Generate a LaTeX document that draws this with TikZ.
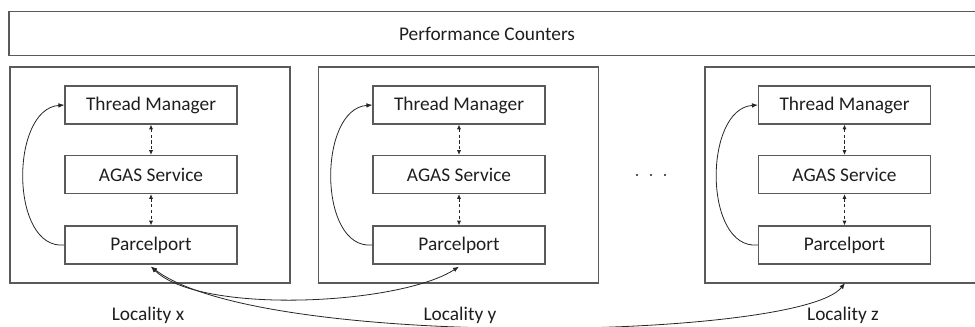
\documentclass[tikz,border=0pt]{standalone}
\usepackage{fontspec}
\setmainfont{Carlito}
\usetikzlibrary{arrows.meta}
\definecolor{boxline}{HTML}{5A5A5A}
\definecolor{txt}{HTML}{1E1E1E}
\tikzset{
  frame/.style={draw=boxline, line width=1pt, inner sep=0pt, minimum width=210pt, minimum height=162pt},
  unit/.style={draw=boxline, line width=0.9pt, inner sep=0pt, minimum width=129pt, minimum height=28.5pt,
    font=\fontsize{14.5}{16}\selectfont, text=txt},
  caption/.style={font=\fontsize{14.5}{16}\selectfont, text=txt, anchor=base, inner sep=0pt},
  tip/.style={-{Latex[length=4.5pt,width=3.5pt]}},
  link/.style={{Latex[length=4.5pt,width=3.5pt]}-{Latex[length=4.5pt,width=3.5pt]}, line width=0.6pt, black!85},
  query/.style={{Latex[length=3.5pt,width=3pt]}-{Latex[length=3.5pt,width=3pt]}, line width=0.6pt, black!85,
    dash pattern=on 2.5pt off 1.8pt},
}
\begin{document}
\begin{tikzpicture}[x=0.75pt, y=-0.75pt]
  \useasboundingbox (0,0) rectangle (975,327);
  \clip (0,0) rectangle (975,327);

  % shared counter layer across all localities
  \node[draw=boxline, line width=1pt, inner sep=0pt, minimum width=732pt, minimum height=33pt] (pc) at (497,33.5) {};
  \node[font=\fontsize{14.5}{16}\selectfont, text=txt] (pctext) at (487,33.5) {Performance Counters};

  % locality frames
  \node[frame] (lx) at (150,175) {};
  \node[frame] (ly) at (458.5,175) {};
  \node[frame] (lz) at (845,175) {};

  % components of each locality
  \foreach \c/\cx in {x/151, y/459, z/844.5} {
    \node[unit] (tm\c) at (\cx,105) {Thread Manager};
    \node[unit] (ag\c) at (\cx,174.5) {AGAS Service};
    \node[unit] (pp\c) at (\cx,245) {Parcelport};
    \draw[query] (tm\c.south) -- (ag\c.north);
    \draw[query] (ag\c.south) -- (pp\c.north);
    \draw[tip, line width=0.6pt, black!85] (pp\c.west)
      .. controls ([xshift=-41pt,yshift=-4pt]pp\c.west) and ([xshift=-41pt,yshift=-3pt]tm\c.west) .. (tm\c.west);
  }

  % locality labels
  \node[caption] (capx) at (148,321) {Locality x};
  \node[caption] (capy) at (460,321) {Locality y};
  \node[caption] (capz) at (843,321) {Locality z};

  % ellipsis between localities
  \node[inner sep=0pt] (dots) at (651,175) {%
    \tikz[baseline]{\fill[txt] (0,0) circle (0.9pt); \fill[txt] (10.5pt,0) circle (0.9pt); \fill[txt] (21pt,0) circle (0.9pt);}};

  % parcel traffic between localities
  \coordinate (px) at ([yshift=-1.5pt]ppx.south);
  \coordinate (py) at ([yshift=-1.5pt]ppy.south);
  \coordinate (pz) at (845,283);
  \draw[link] (px) .. controls (200,315) and (400,305) .. (py);
  \draw[link] (px) .. controls (260,350) and (800,340) .. (pz);
\end{tikzpicture}
\end{document}
